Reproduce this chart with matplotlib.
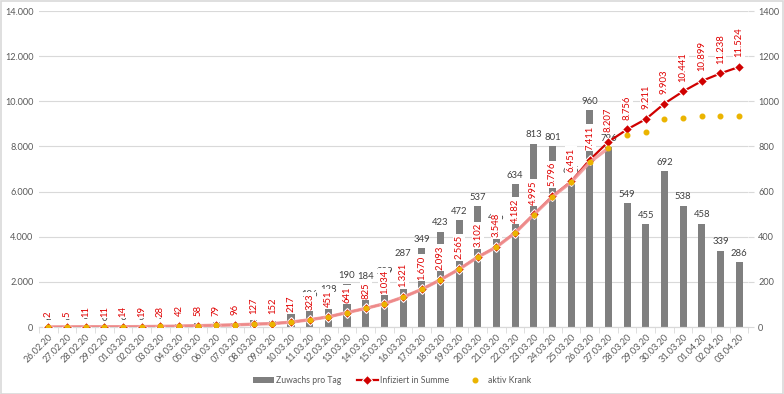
import matplotlib
matplotlib.use("Agg")
import matplotlib.pyplot as plt
from matplotlib.patches import Rectangle
from matplotlib.ticker import FuncFormatter, FixedLocator
import numpy as np

plt.rcParams['font.family'] = ['Lato', 'DejaVu Sans']

dates = ["26.02.20", "27.02.20", "28.02.20", "29.02.20", "01.03.20", "02.03.20",
         "03.03.20", "04.03.20", "05.03.20", "06.03.20", "07.03.20", "08.03.20",
         "09.03.20", "10.03.20", "11.03.20", "12.03.20", "13.03.20", "14.03.20",
         "15.03.20", "16.03.20", "17.03.20", "18.03.20", "19.03.20", "20.03.20",
         "21.03.20", "22.03.20", "23.03.20", "24.03.20", "25.03.20", "26.03.20",
         "27.03.20", "28.03.20", "29.03.20", "30.03.20", "31.03.20", "01.04.20",
         "02.04.20", "03.04.20"]

# Infiziert in Summe
summe = [2, 5, 11, 11, 14, 19, 28, 42, 58, 79, 96, 127, 152, 217, 323, 451, 641,
         825, 1034, 1321, 1670, 2093, 2565, 3102, 3548, 4182, 4995, 5796, 6451,
         7411, 8207, 8756, 9211, 9903, 10441, 10899, 11238, 11524]

# Zuwachs pro Tag
zuwachs = [2, 3, 6, 0, 3, 5, 9, 14, 16, 21, 17, 31, 25, 65, 106, 128, 190, 184,
           209, 287, 349, 423, 472, 537, 446, 634, 813, 801, 655, 960, 796, 549,
           455, 692, 538, 458, 339, 286]

# aktiv Krank
aktiv = [2, 5, 11, 11, 14, 19, 28, 42, 58, 79, 96, 127, 152, 217, 323, 451, 641,
         825, 1034, 1321, 1670, 2093, 2560, 3095, 3540, 4170, 4980, 5770, 6420,
         7300, 7930, 8490, 8640, 9200, 9250, 9370, 9370, 9370]
n_line = 31  # pink line runs through 27.03.20, dots only afterwards

def de(v, pos=None):
    return "{:,.0f}".format(v).replace(",", ".")

fig = plt.figure(figsize=(7.84, 3.94), dpi=100)
fig.patches.append(Rectangle((0.001, 0.001), 0.998, 0.997, transform=fig.transFigure,
                             fill=False, edgecolor="#d9d9d9", linewidth=1.2))

ax = fig.add_axes([0.0497, 0.170, 0.905, 0.802])
ax2 = ax.twinx()

x = np.arange(len(dates))

# bars on the (right) axis 0..1400
ax.bar(x, zuwachs, width=0.38, color="#7f7f7f", zorder=2, label="Zuwachs pro Tag")
for xi, v in zip(x, zuwachs):
    ax.annotate(str(v), (xi, v), xytext=(0, 3), textcoords="offset points",
                ha="center", va="bottom", fontsize=6.8, color="#404040", zorder=3)
ax.set_ylim(0, 1400)
ax.set_yticks(range(0, 1401, 200))
ax.yaxis.tick_right()
ax.grid(axis="y", color="#d9d9d9", linewidth=0.8, zorder=0)
ax.set_axisbelow(True)

# lines on the (left) axis 0..14000
ax2.plot(x, summe, color="#d00000", linewidth=1.6, marker="D", markersize=5,
         markerfacecolor="#d00000", markeredgecolor="white", markeredgewidth=0.8,
         zorder=3, label="Infiziert in Summe")
ax2.plot(x[:n_line], aktiv[:n_line], color="#f19999", linewidth=2.4, alpha=0.9, zorder=4)
ax2.plot(x, aktiv, linestyle="none", marker="o", markersize=3.3,
         markerfacecolor="#ebb400", markeredgecolor="#ebb400", zorder=5,
         label="aktiv Krank")
for xi, v in zip(x, summe):
    ax2.annotate(de(v), (xi, v), xytext=(0, 7), textcoords="offset points",
                 ha="center", va="bottom", rotation=90, fontsize=6.8, color="#e00000",
                 bbox=dict(boxstyle="square,pad=0.15", facecolor="white", edgecolor="none"),
                 zorder=6)
ax2.set_ylim(0, 14000)
ax2.set_yticks(range(0, 14001, 2000))
ax2.yaxis.set_major_formatter(FuncFormatter(de))
ax2.yaxis.tick_left()

ax.set_xlim(-0.5, len(dates) - 0.5)
ax.set_xticks(x)
ax.set_xticklabels(dates, rotation=45, ha="right", rotation_mode="anchor")
ax.xaxis.set_minor_locator(FixedLocator(np.arange(-0.5, len(dates), 1.0)))
ax.tick_params(axis="x", which="major", length=0, labelsize=6.6, labelcolor="#595959", pad=4)
ax.tick_params(axis="x", which="minor", length=4, color="#d9d9d9")
ax.tick_params(axis="y", length=4, color="#d9d9d9", labelsize=6.6, labelcolor="#595959", pad=3)
ax2.tick_params(axis="y", length=0, labelsize=6.6, labelcolor="#595959", pad=4)

for a in (ax, ax2):
    for s in ("top", "left", "right"):
        a.spines[s].set_visible(False)
    a.spines["bottom"].set_color("#d9d9d9")

h1, l1 = ax.get_legend_handles_labels()
h2, l2 = ax2.get_legend_handles_labels()
fig.legend(h1 + h2, l1 + l2, loc="center", bbox_to_anchor=(0.5, 0.035), ncol=3,
           frameon=False, fontsize=6.2, labelcolor="#595959", columnspacing=1.8,
           handlelength=2.4, handletextpad=0.3)

plt.savefig("out.png", dpi=100)
